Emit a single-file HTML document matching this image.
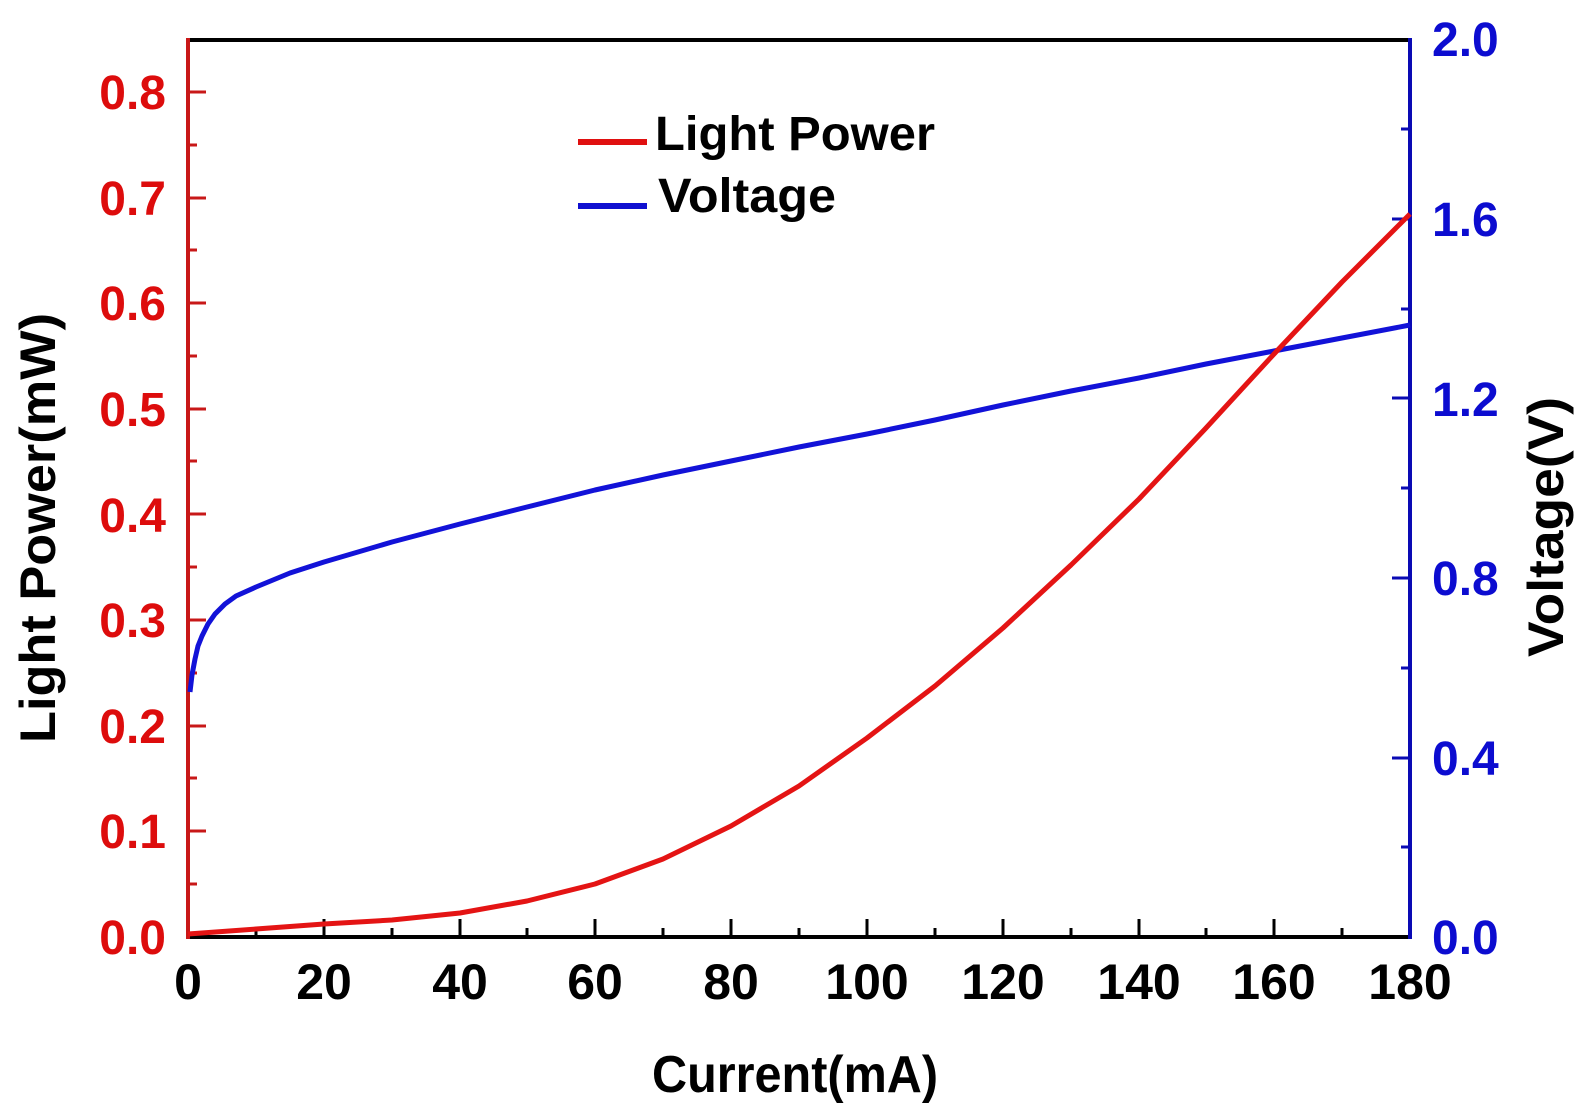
<!DOCTYPE html>
<html><head><meta charset="utf-8"><style>
html,body{margin:0;padding:0;background:#fff;}
svg{display:block;font-family:"Liberation Sans",Arial,sans-serif;font-weight:bold;}
</style></head><body>
<svg width="1584" height="1108" viewBox="0 0 1584 1108" xmlns="http://www.w3.org/2000/svg">
<rect width="1584" height="1108" fill="#fff"/>
<!-- frame -->
<line x1="188" y1="40" x2="1410" y2="40" stroke="#000" stroke-width="4"/>
<line x1="188" y1="937" x2="1410" y2="937" stroke="#000" stroke-width="4"/>
<line x1="188" y1="38" x2="188" y2="939" stroke="#c81818" stroke-width="4"/>
<line x1="1410" y1="38" x2="1410" y2="939" stroke="#0a0ab4" stroke-width="4"/>
<!-- bottom ticks -->
<g stroke="#000" stroke-width="3">
<line x1="256" y1="937" x2="256" y2="928"/><line x1="324" y1="937" x2="324" y2="919"/>
<line x1="392" y1="937" x2="392" y2="928"/><line x1="460" y1="937" x2="460" y2="919"/>
<line x1="527" y1="937" x2="527" y2="928"/><line x1="595" y1="937" x2="595" y2="919"/>
<line x1="663" y1="937" x2="663" y2="928"/><line x1="731" y1="937" x2="731" y2="919"/>
<line x1="799" y1="937" x2="799" y2="928"/><line x1="867" y1="937" x2="867" y2="919"/>
<line x1="935" y1="937" x2="935" y2="928"/><line x1="1003" y1="937" x2="1003" y2="919"/>
<line x1="1071" y1="937" x2="1071" y2="928"/><line x1="1139" y1="937" x2="1139" y2="919"/>
<line x1="1206" y1="937" x2="1206" y2="928"/><line x1="1274" y1="937" x2="1274" y2="919"/>
<line x1="1342" y1="937" x2="1342" y2="928"/>
</g>
<!-- left ticks -->
<g stroke="#c81818" stroke-width="3">
<line x1="188" y1="884" x2="197" y2="884"/><line x1="188" y1="831" x2="206" y2="831"/>
<line x1="188" y1="778" x2="197" y2="778"/><line x1="188" y1="726" x2="206" y2="726"/>
<line x1="188" y1="673" x2="197" y2="673"/><line x1="188" y1="620" x2="206" y2="620"/>
<line x1="188" y1="567" x2="197" y2="567"/><line x1="188" y1="514" x2="206" y2="514"/>
<line x1="188" y1="461" x2="197" y2="461"/><line x1="188" y1="409" x2="206" y2="409"/>
<line x1="188" y1="356" x2="197" y2="356"/><line x1="188" y1="303" x2="206" y2="303"/>
<line x1="188" y1="250" x2="197" y2="250"/><line x1="188" y1="198" x2="206" y2="198"/>
<line x1="188" y1="145" x2="197" y2="145"/><line x1="188" y1="92" x2="206" y2="92"/>
</g>
<!-- right ticks -->
<g stroke="#0a0ab4" stroke-width="3">
<line x1="1410" y1="847" x2="1401" y2="847"/><line x1="1410" y1="758" x2="1392" y2="758"/>
<line x1="1410" y1="668" x2="1401" y2="668"/><line x1="1410" y1="578" x2="1392" y2="578"/>
<line x1="1410" y1="488" x2="1401" y2="488"/><line x1="1410" y1="398" x2="1392" y2="398"/>
<line x1="1410" y1="309" x2="1401" y2="309"/><line x1="1410" y1="219" x2="1392" y2="219"/>
<line x1="1410" y1="129" x2="1401" y2="129"/>
</g>
<!-- left tick labels -->
<g fill="#dd0c0c" font-size="48" text-anchor="end">
<text x="166" y="954">0.0</text><text x="166" y="848">0.1</text><text x="166" y="743">0.2</text>
<text x="166" y="637">0.3</text><text x="166" y="532">0.4</text><text x="166" y="426">0.5</text>
<text x="166" y="320">0.6</text><text x="166" y="215">0.7</text><text x="166" y="109">0.8</text>
</g>
<!-- right tick labels -->
<g fill="#0c0cd0" font-size="48" text-anchor="start">
<text x="1432" y="954">0.0</text><text x="1432" y="775">0.4</text><text x="1432" y="595">0.8</text>
<text x="1432" y="416">1.2</text><text x="1432" y="236">1.6</text><text x="1432" y="56">2.0</text>
</g>
<!-- bottom tick labels -->
<g fill="#000" font-size="50" text-anchor="middle">
<text x="188" y="999">0</text><text x="324" y="999">20</text><text x="460" y="999">40</text>
<text x="595" y="999">60</text><text x="731" y="999">80</text><text x="867" y="999">100</text>
<text x="1003" y="999">120</text><text x="1139" y="999">140</text><text x="1274" y="999">160</text>
<text x="1410" y="999">180</text>
</g>
<!-- axis titles -->
<text x="652" y="1092" font-size="52" fill="#000" textLength="286" lengthAdjust="spacingAndGlyphs">Current(mA)</text>
<text transform="translate(55,743) rotate(-90)" font-size="50" fill="#000" textLength="430" lengthAdjust="spacingAndGlyphs">Light Power(mW)</text>
<text transform="translate(1563,657) rotate(-90)" font-size="50" fill="#000" textLength="260" lengthAdjust="spacingAndGlyphs">Voltage(V)</text>
<!-- legend -->
<line x1="578" y1="142" x2="647" y2="142" stroke="#e01010" stroke-width="6"/>
<line x1="578" y1="206" x2="647" y2="206" stroke="#1010d0" stroke-width="6"/>
<text x="655" y="150" font-size="48" fill="#000" textLength="280" lengthAdjust="spacingAndGlyphs">Light Power</text>
<text x="658" y="212" font-size="48" fill="#000" textLength="178" lengthAdjust="spacingAndGlyphs">Voltage</text>
<!-- curves -->
<polyline fill="none" stroke="#1212d8" stroke-width="5" stroke-linejoin="round" points="190,692 192,675 195,659 198,646 202,636 208,624 215,614 225,604 236,596 256,587 290,573 324,562 392,542 460,524 527,507 595,490 663,475 731,461 799,447 867,434 935,420 1003,405 1071,391 1139,378 1206,364 1274,351 1342,338 1410,325"/>
<polyline fill="none" stroke="#e41414" stroke-width="5" stroke-linejoin="round" points="188,934 256,929 324,924 392,920 460,913 527,901 595,884 663,859 731,826 799,786 867,738 935,686 1003,628 1071,565 1139,499 1206,428 1274,354 1342,282 1410,214"/>
</svg>
</body></html>
